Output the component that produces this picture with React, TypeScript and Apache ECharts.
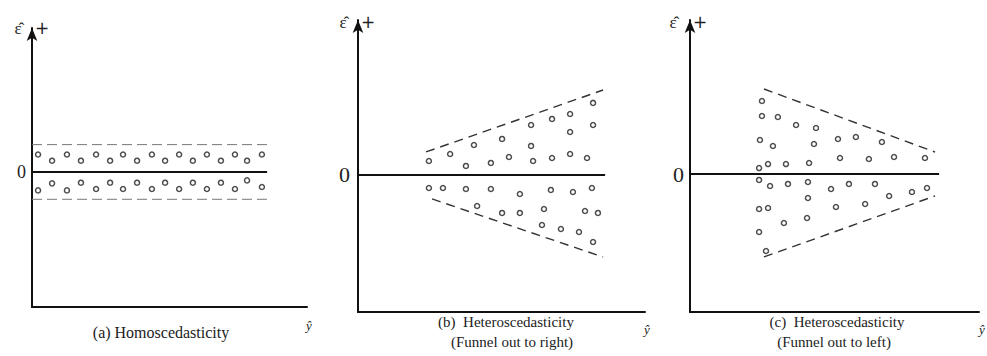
import { useEffect, useRef } from "react";
import * as echarts from "echarts";

// ---------- Panel (a): Homoscedasticity ----------
const aX = [2.2, 7.3, 12.7, 17.8, 23.3, 28.4, 33.1, 38.2, 43.6, 48.4, 53.5, 58.5, 63.6, 68.7, 73.8, 78.2, 83.6];
const aUpperY = [13.0, 8.4, 13.0, 8.4, 13.0, 8.4, 13.0, 8.4, 13.0, 8.4, 13.0, 8.4, 13.0, 8.4, 13.0, 8.4, 13.0];
const aLowerY = [-13.6, -8.4, -13.6, -7.9, -12.6, -7.9, -12.6, -7.9, -12.6, -7.9, -12.6, -7.9, -12.6, -7.9, -12.6, -6.2, -11.1];
const aBandUpper = 20.3;
const aBandLower = -20.2;
const aLineEnd = 85.5;

// ---------- Panel (b): funnel out to right ----------
const bUpperPoints = [
  [24.7, 10.2], [32.1, 15.3], [37.6, 6.6], [40.4, 21.9], [46.3, 8.8], [50.2, 26.3],
  [52.6, 13.1], [60.3, 36.5], [60.3, 21.2], [61.0, 10.2], [67.6, 40.9], [67.6, 12.4],
  [73.9, 44.5], [73.9, 31.4], [73.9, 15.3], [79.8, 12.4], [81.9, 52.6], [81.9, 36.5],
];
const bLowerPoints = [
  [24.7, -9.5], [29.6, -9.5], [37.6, -10.2], [46.3, -10.2], [56.4, -13.9], [67.2, -10.9],
  [74.9, -12.4], [81.5, -9.5], [41.5, -22.6], [50.2, -27.7], [56.4, -27.7], [64.8, -24.8],
  [79.1, -26.3], [83.6, -27.7], [64.1, -36.5], [70.7, -39.4], [77.0, -41.6], [81.9, -48.9],
];
const bUpperEdge = [[23.7, 16.8], [85.4, 62.0]];
const bLowerEdge = [[25.8, -17.5], [85.4, -59.9]];
const bLineEnd = 86.1;

// ---------- Panel (c): funnel out to left ----------
const cUpperPoints = [
  [24.9, 52.9], [24.9, 42.0], [30.4, 41.3], [36.7, 35.5], [43.6, 33.3], [24.2, 24.6],
  [28.7, 20.3], [42.9, 21.7], [51.2, 25.4], [57.4, 26.8], [66.4, 23.2], [23.9, 4.3],
  [27.0, 7.2], [33.2, 7.2], [41.2, 8.0], [51.9, 11.6], [61.9, 10.9], [70.6, 12.3], [81.3, 11.6],
];
const cLowerPoints = [
  [23.9, -4.3], [27.7, -8.7], [33.9, -7.2], [40.8, -5.8], [48.8, -10.9], [55.0, -7.2],
  [64.0, -7.2], [76.8, -13.0], [82.0, -10.1], [40.8, -17.4], [68.9, -15.9], [23.9, -25.4],
  [27.0, -24.6], [50.5, -23.9], [60.6, -21.7], [32.5, -35.5], [40.5, -31.9], [23.9, -42.0], [26.3, -55.8],
];
const cUpperEdge = [[25.6, 61.6], [84.8, 15.9]];
const cLowerEdge = [[25.6, -60.1], [84.8, -15.9]];
const cLineEnd = 86.2;

// ---------- Axes ----------
const xRange = [0, 100];
const yMin = -100;
const yMaxList = [106.7, 113.1, 111.6];
const zeroLabel = "0";

// ---------- Texts ----------
const residualLabel = "\u03B5\u0302";
const plusLabel = "+";
const fittedLabel = "\u0177";
const captionA = "(a) Homoscedasticity";
const captionB1 = "(b)  Heteroscedasticity";
const captionB2 = "(Funnel out to right)";
const captionC1 = "(c)  Heteroscedasticity";
const captionC2 = "(Funnel out to left)";

const SERIF = "Liberation Serif";
const SANS = "DejaVu Sans";

export default function App() {
  const ref = useRef<HTMLDivElement>(null);

  useEffect(() => {
    document.body.style.margin = "0";
    if (!ref.current) return;
    const chart = echarts.init(ref.current, null, { renderer: "svg" });

    const grids = [
      { left: 32, top: 28, width: 275, height: 279 },
      { left: 358, top: 20, width: 287, height: 292 },
      { left: 690, top: 20, width: 289, height: 292 },
    ];
    const zeroFont = [18, 22, 22];
    const zeroMargin = [6, 8, 6];

    const xAxis = grids.map((_, i) => ({
      type: "value",
      gridIndex: i,
      min: xRange[0],
      max: xRange[1],
      axisLine: { show: true, onZero: false, lineStyle: { color: "#111", width: 2 } },
      axisTick: { show: false },
      axisLabel: { show: false },
      splitLine: { show: false },
    }));
    const yAxis = grids.map((_, i) => ({
      type: "value",
      gridIndex: i,
      min: yMin,
      max: yMaxList[i],
      interval: 100,
      axisLine: {
        show: true,
        lineStyle: { color: "#111", width: 2 },
        symbol: ["none", "arrow"],
        symbolSize: [8, 13],
      },
      axisTick: { show: false },
      splitLine: { show: false },
      axisLabel: {
        show: true,
        margin: zeroMargin[i],
        color: "#222",
        fontFamily: SERIF,
        fontSize: zeroFont[i],
        formatter: (v: number) => (v === 0 ? zeroLabel : ""),
      },
    }));

    const pointStyle = { color: "#fff", borderColor: "#222", borderWidth: 1.5 };
    const scatter = (idx: number, data: number[][]) => ({
      type: "scatter",
      xAxisIndex: idx,
      yAxisIndex: idx,
      data,
      symbol: "circle",
      symbolSize: 5,
      itemStyle: pointStyle,
      silent: true,
    });
    const line = (idx: number, data: number[][], style: any) => ({
      type: "line",
      xAxisIndex: idx,
      yAxisIndex: idx,
      data,
      symbol: "none",
      lineStyle: style,
      silent: true,
    });
    const solid = { color: "#111", width: 2 };
    const dashA = { color: "#777", width: 1, type: [10, 5] };
    const dashBC = { color: "#333", width: 1.4, type: [9, 6] };

    const series: any[] = [
      line(0, [[0, 0], [aLineEnd, 0]], solid),
      line(0, [[0, aBandUpper], [aLineEnd, aBandUpper]], dashA),
      line(0, [[0, aBandLower], [aLineEnd, aBandLower]], dashA),
      scatter(0, aX.map((x, k) => [x, aUpperY[k]])),
      scatter(0, aX.map((x, k) => [x, aLowerY[k]])),

      line(1, [[0, 0], [bLineEnd, 0]], solid),
      line(1, bUpperEdge, dashBC),
      line(1, bLowerEdge, dashBC),
      scatter(1, bUpperPoints),
      scatter(1, bLowerPoints),

      line(2, [[0, 0], [cLineEnd, 0]], solid),
      line(2, cUpperEdge, dashBC),
      line(2, cLowerEdge, dashBC),
      scatter(2, cUpperPoints),
      scatter(2, cLowerPoints),
    ];

    const txt = (x: number, y: number, text: string, size: number, family = SERIF, italic = false) => ({
      type: "text",
      x,
      y,
      silent: true,
      style: {
        text,
        fill: "#222",
        fontFamily: family,
        fontSize: size,
        fontStyle: italic ? "italic" : "normal",
        align: "center",
        verticalAlign: "middle",
      },
    });

    const graphic = [
      txt(18, 28, residualLabel, 17),
      txt(42, 28, plusLabel, 17, SANS),
      txt(309, 325, fittedLabel, 13, SERIF, true),
      txt(161, 332, captionA, 16),

      txt(343, 22, residualLabel, 17),
      txt(368, 22, plusLabel, 17, SANS),
      txt(647, 329, fittedLabel, 13, SERIF, true),
      txt(506, 322, captionB1, 15),
      txt(512, 342, captionB2, 15),

      txt(673, 22, residualLabel, 17),
      txt(700, 22, plusLabel, 17, SANS),
      txt(982, 329, fittedLabel, 13, SERIF, true),
      txt(837, 322, captionC1, 15),
      txt(834, 342, captionC2, 15),
    ];

    chart.setOption({
      animation: false,
      backgroundColor: "#fff",
      grid: grids.map((g) => ({ ...g, containLabel: false })),
      xAxis,
      yAxis,
      series,
      graphic,
    });

    return () => chart.dispose();
  }, []);

  return <div ref={ref} style={{ width: 987, height: 356 }} />;
}
